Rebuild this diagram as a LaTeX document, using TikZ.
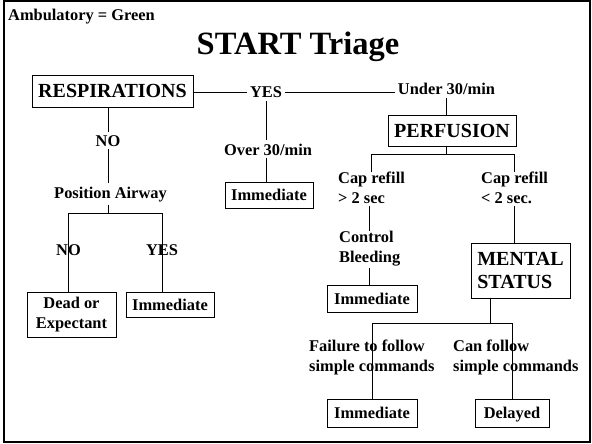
\documentclass[tikz,border=0pt]{standalone}
\usepackage{fontspec}
\setmainfont{Liberation Serif}
\begin{document}
\begin{tikzpicture}[x=1pt,y=-1pt,
  lbl/.style={font=\bfseries\fontsize{16.4}{20}\selectfont, inner sep=3pt},
  hd/.style={font=\bfseries\fontsize{20}{23}\selectfont},
  box/.style={draw, line width=0.9pt, inner sep=0pt},
  conn/.style={line width=0.8pt}]
\useasboundingbox (0,0) rectangle (592,444);
\draw[line width=2pt] (4,1.5) rectangle (589.5,442);
% texts
\node[lbl, anchor=base west, inner sep=0pt] (amb) at (8,21) {Ambulatory = Green};
\node[font=\bfseries\fontsize{32.5}{36}\selectfont, anchor=base, inner sep=0pt] (title) at (298,55) {START Triage};
% boxes and labels
\node[box, hd, minimum width=161pt, minimum height=32pt] (resp) at (112.5,91) {RESPIRATIONS};
\node[lbl, anchor=base] (yes) at (266,98) {YES};
\node[lbl, anchor=base] (under) at (446.5,95) {Under 30/min};
\node[lbl, anchor=base] (over) at (268,155) {Over 30/min};
\node[box, lbl, inner sep=0pt, minimum width=88pt, minimum height=26pt] (immA) at (269,195) {Immediate};
\node[lbl, anchor=base] (no1) at (108,146) {NO};
\node[lbl, anchor=base] (pos) at (110.5,198) {Position Airway};
\node[lbl, anchor=base] (no2) at (68.5,255) {NO};
\node[lbl, anchor=base] (yes2) at (162,255) {YES};
\node[box, lbl, inner sep=0pt, align=center, minimum width=89pt, minimum height=45pt] (dead) at (71.5,314.5) {Dead or\\Expectant};
\node[box, lbl, inner sep=0pt, minimum width=88pt, minimum height=25pt] (immB) at (170,304.5) {Immediate};
\node[box, hd, minimum width=128pt, minimum height=31pt] (perf) at (452,130.5) {PERFUSION};
\node[lbl, align=left, anchor=north west, inner sep=0pt] (capL) at (338,172) {Cap refill\\> 2 sec};
\node[lbl, align=left, anchor=north west, inner sep=0pt] (capR) at (481,172) {Cap refill\\< 2 sec.};
\node[lbl, align=left, anchor=north west, inner sep=0pt] (ctrl) at (339,231) {Control\\Bleeding};
\node[box, lbl, inner sep=0pt, minimum width=90pt, minimum height=27pt] (immC) at (372,298.5) {Immediate};
\node[box, hd, align=left, minimum width=99pt, minimum height=55pt] (ms) at (520.5,270.5) {MENTAL\\STATUS};
\node[lbl, align=left, anchor=north west, inner sep=0pt] (fail) at (309,340) {Failure to follow\\simple commands};
\node[lbl, align=left, anchor=north west, inner sep=0pt] (can) at (453,340) {Can follow\\simple commands};
\node[box, lbl, inner sep=0pt, minimum width=90pt, minimum height=28pt] (immD) at (372,413) {Immediate};
\node[box, lbl, inner sep=0pt, text depth=0pt, minimum width=74pt, minimum height=28pt] (del) at (512,413) {Delayed};
\coordinate (mj) at (490,323);
% connectors
\draw[conn] (resp.east |- yes.west) -- (yes.west);
\draw[conn] (yes.east) -- (yes.east -| under.west);
\draw[conn] (yes.south) -- (yes.south |- over.north);
\draw[conn] (yes.south |- over.south) -- (yes.south |- immA.north);
\draw[conn] (no1.north |- resp.south) -- (no1.north);
\draw[conn] (no1.south) -- (no1.south |- pos.north);
\draw[conn] (no1.south |- pos.south) -- (no1.south |- 0,213) coordinate (pj1);
\draw[conn] (no2 |- dead.north) -- (no2 |- pj1) -- (yes2 |- pj1) -- (yes2 |- immB.north);
\draw[conn] (under.south) -- (under.south |- perf.north);
\draw[conn] (under.south |- perf.south) -- (under.south |- 0,154) coordinate (pj2);
\draw[conn] (capL.north) -- (capL.north |- pj2) -- (capR.north |- pj2) -- (capR.north);
\draw[conn] (ctrl.north |- capL.south) ++(0,2) -- (ctrl.north);
\draw[conn] (ctrl.south) ++(0,2) -- (ctrl.south |- immC.north);
\draw[conn] (capR.south) ++(0,2) -- (capR.south |- ms.north);
\draw[conn] (mj |- ms.south) -- (mj);
\draw[conn] (immD.north) -- (immD.north |- mj) -- (del.north |- mj) -- (del.north);
\end{tikzpicture}
\end{document}
